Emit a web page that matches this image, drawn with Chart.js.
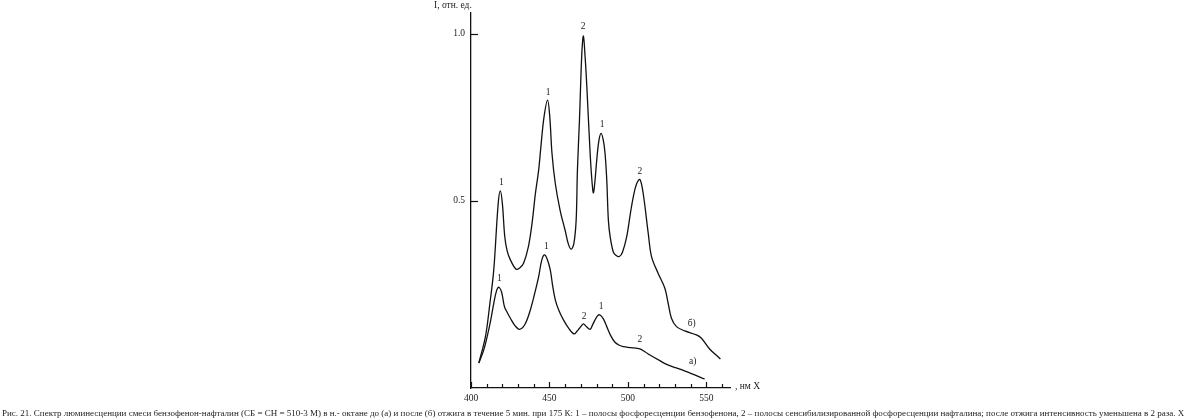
<!DOCTYPE html>
<html>
<head>
<meta charset="utf-8">
<script src="https://cdn.jsdelivr.net/npm/chart.js@4/dist/chart.umd.min.js"></script>
<style>
html,body{margin:0;padding:0;background:#fff;}
canvas{display:block;}
</style>
</head>
<body>
<canvas id="c" width="1189" height="420"></canvas>
<script>
// ---- data (wavelength nm, relative intensity) ----
const wlB = [405.0,409.2,412.0,414.5,417.3,418.7,420.0,421.5,423.0,425.1,428.7,431.0,433.5,436.5,438.9,441.0,443.1,444.5,446.5,448.8,450.2,451.6,453.7,456.8,460.0,462.0,463.8,465.5,467.0,467.8,469.1,470.6,471.6,472.7,473.8,475.9,477.2,478.0,479.0,480.1,481.5,482.9,484.3,485.4,486.5,487.5,488.7,490.7,492.5,494.5,496.5,499.2,501.5,503.4,505.5,507.6,509.7,512.9,515.0,519.2,523.5,525.6,527.7,530.9,536.2,543.6,546.8,552.0,558.9];
const intB = [0.013,0.092,0.19,0.292,0.49,0.529,0.49,0.392,0.35,0.322,0.294,0.298,0.312,0.36,0.432,0.52,0.591,0.66,0.75,0.801,0.75,0.641,0.551,0.47,0.41,0.37,0.354,0.37,0.442,0.591,0.741,0.941,0.993,0.93,0.841,0.641,0.55,0.523,0.56,0.621,0.68,0.701,0.68,0.641,0.561,0.442,0.39,0.345,0.335,0.332,0.345,0.392,0.46,0.511,0.55,0.563,0.521,0.402,0.332,0.282,0.237,0.192,0.147,0.122,0.109,0.097,0.087,0.055,0.025];

const wlA = [405.0,408.0,410.3,412.5,414.5,416.3,417.7,419.5,421.3,423.0,425.1,428.0,431.0,434.5,437.8,440.5,443.1,445.0,446.7,448.5,450.5,452.0,453.7,456.0,458.9,462.5,465.7,467.5,469.1,471.6,473.5,475.9,477.5,479.0,480.7,482.2,484.3,486.5,489.0,491.7,494.5,497.0,502.0,507.6,511.0,514.0,520.3,525.0,530.9,540.0,548.9];
const intA = [0.013,0.05,0.092,0.14,0.192,0.23,0.24,0.225,0.182,0.165,0.147,0.125,0.114,0.13,0.172,0.22,0.272,0.32,0.337,0.325,0.292,0.245,0.202,0.17,0.142,0.115,0.1,0.108,0.117,0.13,0.122,0.114,0.128,0.142,0.155,0.157,0.145,0.122,0.095,0.075,0.066,0.062,0.059,0.055,0.046,0.037,0.02,0.008,-0.002,-0.018,-0.035];

const xTicks = [400,410,420,430,440,450,460,470,480,490,500,510,520,530,540,550,560];
const xLabeled = [400,450,500,550];
const yTicks = [0.5,1.0];

// band labels (anchor in data units)
const bandLabelText = ['1','1','2','1','2','б)','1','1','2','1','2','а)'];
const bandLabelX = [419.4,449.2,471.4,483.5,507.6,540.6,418.1,448.0,472.1,482.9,507.6,541.3];
const bandLabelY = [0.555,0.825,1.022,0.729,0.588,0.130,0.265,0.361,0.151,0.181,0.082,0.016];

const yTitle = 'I, отн. ед.';
const xTitle = ', нм X';
const caption = 'Рис. 21. Спектр люминесценции смеси бензофенон-нафталин (СБ = СН = 510-3 М) в н.- октане до (а) и после (б) отжига в течение 5 мин. при 175 К: 1 – полосы фосфоресценции бензофенона, 2 – полосы сенсибилизированной фосфоресценции нафталина; после отжига интенсивность уменьшена в 2 раза. X';

const FONT = '"Liberation Serif", "Times New Roman", serif';
const INK = '#111';

const toPts = (xs, ys) => xs.map((x, i) => ({x: x, y: ys[i]}));

const decor = {
  id: 'decor',
  afterDraw(chart) {
    const ctx = chart.ctx;
    const xs = chart.scales.x, ys = chart.scales.y;
    const ca = chart.chartArea;
    ctx.save();
    ctx.strokeStyle = INK;
    ctx.lineWidth = 1.2;
    xTicks.forEach(v => {
      const px = Math.round(xs.getPixelForValue(v)) + 0.5;
      const len = xLabeled.includes(v) ? 6 : 4;
      ctx.beginPath();
      ctx.moveTo(px, ca.bottom);
      ctx.lineTo(px, ca.bottom - len);
      ctx.stroke();
    });
    yTicks.forEach(v => {
      const py = Math.round(ys.getPixelForValue(v)) + 0.5;
      ctx.beginPath();
      ctx.moveTo(ca.left, py);
      ctx.lineTo(ca.left + 7, py);
      ctx.stroke();
    });
    ctx.fillStyle = '#222';
    ctx.font = '9.5px ' + FONT;
    ctx.textAlign = 'center';
    ctx.textBaseline = 'middle';
    bandLabelText.forEach((t, i) => {
      ctx.fillText(t, xs.getPixelForValue(bandLabelX[i]), ys.getPixelForValue(bandLabelY[i]));
    });
    ctx.textAlign = 'left';
    ctx.fillText(yTitle, 434, 5);
    ctx.fillText(xTitle, ca.right + 5, ca.bottom - 2);
    let fs = 9;
    ctx.font = fs + 'px ' + FONT;
    const w = ctx.measureText(caption).width;
    fs = fs * 1184 / w;
    ctx.font = fs.toFixed(2) + 'px ' + FONT;
    ctx.fillText(caption, 2, 414);
    ctx.restore();
  }
};

new Chart(document.getElementById('c'), {
  type: 'line',
  data: {
    datasets: [
      {label: 'б', data: toPts(wlB, intB), borderColor: INK, borderWidth: 1.3, pointRadius: 0, fill: false, tension: 0.35},
      {label: 'а', data: toPts(wlA, intA), borderColor: INK, borderWidth: 1.3, pointRadius: 0, fill: false, tension: 0.35}
    ]
  },
  options: {
    responsive: false,
    animation: false,
    devicePixelRatio: 1,
    layout: {padding: {left: 441, right: 459, top: 13, bottom: 12}},
    plugins: {legend: {display: false}, tooltip: {enabled: false}, title: {display: false}},
    scales: {
      x: {
        type: 'linear', min: 400, max: 565,
        afterBuildTicks: s => { s.ticks = xLabeled.map(v => ({value: v})); },
        afterFit: s => { s.height = 20; },
        grid: {display: false, drawTicks: false},
        border: {display: true, color: INK, width: 1.3},
        ticks: {color: '#222', font: {family: FONT, size: 9.5}, padding: 5, maxRotation: 0, autoSkip: false}
      },
      y: {
        type: 'linear', min: -0.062, max: 1.062,
        afterBuildTicks: s => { s.ticks = yTicks.map(v => ({value: v})); },
        afterFit: s => { s.width = 30; },
        grid: {display: false, drawTicks: false},
        border: {display: true, color: INK, width: 1.3},
        ticks: {color: '#222', font: {family: FONT, size: 9.5}, padding: 6, callback: v => v.toFixed(1)}
      }
    }
  },
  plugins: [decor]
});
</script>
</body>
</html>
